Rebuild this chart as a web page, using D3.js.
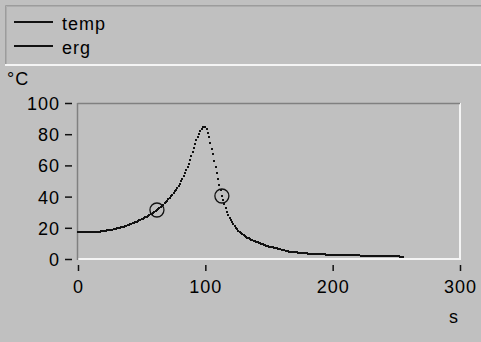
<!DOCTYPE html>
<html>
<head>
<meta charset="utf-8">
<script src="https://cdn.jsdelivr.net/npm/d3@7"></script>
<style>
  html, body { margin: 0; padding: 0; background: #c0c0c0; }
  svg { display: block; }
  text { font-family: "Liberation Sans", Arial, sans-serif; font-size: 18px; letter-spacing: 1px; fill: #000; }
</style>
</head>
<body>
<svg id="chart" width="481" height="342"></svg>
<script>
// Temperature log, one sample per second starting at t = 0 s
const sampleStart = 0;
const sampleStep = 1;
const tempValues = [
  17.0,17.0,17.0,17.0,17.0,17.0,17.0,17.0,17.1,17.1,
  17.1,17.2,17.2,17.3,17.3,17.4,17.5,17.6,17.7,17.8,
  17.9,18.0,18.1,18.3,18.4,18.6,18.7,18.9,19.1,19.3,
  19.5,19.7,19.9,20.1,20.3,20.6,20.8,21.1,21.4,21.6,
  21.9,22.2,22.5,22.9,23.2,23.6,23.9,24.3,24.7,25.1,
  25.5,25.9,26.3,26.7,27.2,27.6,28.1,28.6,29.1,29.6,
  30.2,30.8,31.4,32.0,32.7,33.4,34.1,34.9,35.7,36.5,
  37.4,38.3,39.2,40.2,41.2,42.2,43.3,44.4,45.6,46.8,
  48.3,49.9,51.5,53.2,55.0,56.8,58.8,61.0,63.3,65.8,
  68.4,71.0,73.6,76.0,78.2,80.2,81.9,83.3,84.3,84.8,
  84.5,83.2,81.0,78.0,74.5,70.8,67.0,63.1,59.2,55.3,
  51.5,47.7,44.0,40.4,37.6,35.0,32.6,30.4,28.4,26.6,
  25.0,23.6,22.3,21.1,20.0,19.0,18.1,17.3,16.6,15.9,
  15.3,14.7,14.2,13.7,13.2,12.8,12.4,12.0,11.6,11.3,
  11.0,10.7,10.4,10.1,9.8,9.5,9.2,8.9,8.6,8.3,
  8.0,7.8,7.6,7.4,7.2,7.0,6.8,6.6,6.4,6.2,
  6.0,5.8,5.6,5.4,5.2,5.0,4.8,4.7,4.6,4.5,
  4.4,4.3,4.2,4.1,4.0,3.9,3.9,3.8,3.7,3.7,
  3.6,3.5,3.5,3.4,3.4,3.3,3.3,3.2,3.2,3.1,
  3.1,3.0,3.0,2.9,2.9,2.8,2.8,2.7,2.7,2.6,
  2.6,2.6,2.6,2.5,2.5,2.5,2.5,2.5,2.4,2.4,
  2.4,2.4,2.4,2.4,2.3,2.3,2.3,2.3,2.3,2.3,
  2.3,2.3,2.2,2.2,2.2,2.2,2.2,2.2,2.2,2.2,
  2.2,2.1,2.1,2.1,2.1,2.1,2.1,2.1,2.1,2.1,
  2.1,2.1,2.0,2.0,2.0,2.0,2.0,2.0,2.0,2.0,
  2.0,2.0,1.9,1.6,1.4,1.3
];

// Marked result points ("erg")
const ergTime = [62, 113];
const ergValues = [31.4, 40.4];

// Axes
const xTicks = [0, 100, 200, 300];
const yTicks = [0, 20, 40, 60, 80, 100];
const seriesNames = ["temp", "erg"];
const xUnit = "s";
const yUnit = "°C";

const svg = d3.select("#chart");

const x = d3.scaleLinear().domain([0, 300]).range([78, 460]);
const y = d3.scaleLinear().domain([0, 100]).range([259, 103]);

// Legend panel
const legend = svg.append("g");
legend.append("line").attr("x1", 5.5).attr("x2", 481).attr("y1", 5.5).attr("y2", 5.5).attr("stroke", "#9c9c9c");
legend.append("line").attr("x1", 6.5).attr("x2", 481).attr("y1", 6.5).attr("y2", 6.5).attr("stroke", "#adadad");
legend.append("line").attr("x1", 5.5).attr("x2", 5.5).attr("y1", 5.5).attr("y2", 64).attr("stroke", "#9c9c9c");
legend.append("line").attr("x1", 6.5).attr("x2", 6.5).attr("y1", 6.5).attr("y2", 64).attr("stroke", "#adadad");
legend.append("rect").attr("x", 5).attr("y", 64).attr("width", 476).attr("height", 2).attr("fill", "#f4f4f4");

seriesNames.forEach((name, i) => {
  const ly = 22 + i * 24;
  legend.append("line")
    .attr("x1", 14).attr("x2", 53).attr("y1", ly).attr("y2", ly)
    .attr("stroke", "#111").attr("stroke-width", 2);
  legend.append("text").attr("x", 62).attr("y", ly + 8).text(name);
});

// Plot frame: grey on the left/top, white on the right/bottom
svg.append("line").attr("x1", 460).attr("x2", 460).attr("y1", 103).attr("y2", 260)
  .attr("stroke", "#f4f4f4").attr("stroke-width", 2);
svg.append("line").attr("x1", 78).attr("x2", 461).attr("y1", 259).attr("y2", 259)
  .attr("stroke", "#f4f4f4").attr("stroke-width", 2);
svg.append("line").attr("x1", 77.5).attr("x2", 460).attr("y1", 103.5).attr("y2", 103.5)
  .attr("stroke", "#808080").attr("stroke-width", 1.5);
svg.append("line").attr("x1", 77.5).attr("x2", 77.5).attr("y1", 103).attr("y2", 260)
  .attr("stroke", "#808080").attr("stroke-width", 1.5);

// Y axis: detached dashes with labels
const yAxis = svg.append("g")
  .attr("transform", "translate(72,0)")
  .call(d3.axisLeft(y).tickValues(yTicks).tickSize(7).tickPadding(5));
yAxis.select(".domain").remove();
yAxis.selectAll(".tick line").attr("stroke", "#111").attr("stroke-width", 1.5);
yAxis.selectAll(".tick text")
  .attr("font-family", null).attr("font-size", null)
  .attr("dy", "0.36em");

// X axis
const xAxis = svg.append("g")
  .attr("transform", "translate(0,265)")
  .call(d3.axisBottom(x).tickValues(xTicks).tickSize(6).tickPadding(9));
xAxis.select(".domain").remove();
xAxis.selectAll(".tick line").attr("stroke", "#111").attr("stroke-width", 1.5);
xAxis.selectAll(".tick text").attr("font-family", null).attr("font-size", null);

// Units
svg.append("text").attr("x", 454).attr("y", 323).attr("text-anchor", "middle").text(xUnit);
svg.append("text").attr("x", 7).attr("y", 85).text(yUnit);

// Temperature samples drawn as individual points
const samples = tempValues.map((v, i) => ({ t: sampleStart + i * sampleStep, v }));
svg.append("g")
  .attr("shape-rendering", "crispEdges")
  .selectAll("rect")
  .data(samples)
  .join("rect")
  .attr("x", d => Math.round(x(d.t)) - 1)
  .attr("y", d => Math.round(y(d.v)) - 1)
  .attr("width", 2)
  .attr("height", 2)
  .attr("fill", "#111");

// Result markers
svg.append("g")
  .selectAll("circle")
  .data(ergTime.map((t, i) => ({ t, v: ergValues[i] })))
  .join("circle")
  .attr("cx", d => x(d.t))
  .attr("cy", d => y(d.v))
  .attr("r", 7)
  .attr("fill", "none")
  .attr("stroke", "#111")
  .attr("stroke-width", 1.3);
</script>
</body>
</html>
